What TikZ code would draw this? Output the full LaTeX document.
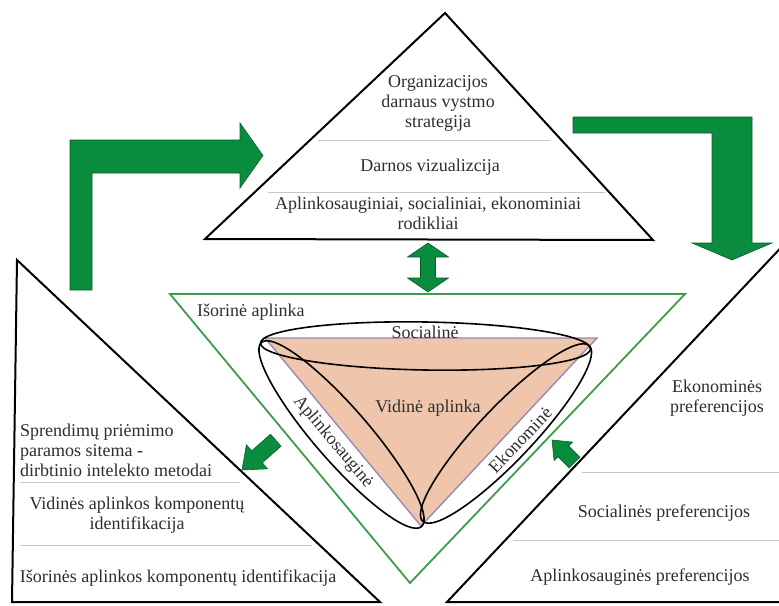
\documentclass[tikz,border=0pt]{standalone}
\usepackage{fontspec}
\setmainfont{Liberation Serif}
\definecolor{arrowgreen}{HTML}{0A8C3E}
\definecolor{arrowdark}{HTML}{0B5E2C}
\definecolor{linegreen}{HTML}{3E9C4C}
\definecolor{peach}{HTML}{EFC6AC}
\definecolor{lilac}{HTML}{9A88B6}
\begin{document}
\begin{tikzpicture}[x=1pt,y=-1pt,
  txt/.style={font=\fontsize{18}{20}\selectfont, text=black!82, inner sep=0pt, align=center},
  blk/.style={draw=black, line width=2pt, line join=miter},
  sep/.style={draw=black!22, line width=1pt},
  garrow/.style={fill=arrowgreen, draw=arrowdark, line width=0.6pt, line join=miter},
  ell/.style={draw=black, line width=1.6pt}]
\path[use as bounding box, fill=white] (0,0) rectangle (779,605);
\clip (0,0) rectangle (779,605);

% ---------- top triangle ----------
\draw[blk] (205,239) -- (445,13) -- (653,240) -- cycle;
\draw[sep] (318,140) -- (550,140);
\draw[sep] (268,192) -- (605,192);
\node[txt] (org) at (438,103) {Organizacijos\\darnaus vystmo\\strategija};
\node[txt] (viz) at (430,167) {Darnos vizualizcija};
\node[txt] (rod) at (428,213) {Aplinkosauginiai, socialiniai, ekonominiai\\rodikliai};

% ---------- left triangle ----------
\draw[blk] (17,260) -- (12,602) -- (380,602) -- cycle;
\draw[sep] (20,482) -- (240,482);
\draw[sep] (20,545) -- (312,545);
\node[txt, align=left, anchor=west] (spr) at (20,450) {Sprendimų priėmimo\\paramos sitema -\\dirbtinio intelekto metodai};
\node[txt] (vid) at (137,515) {Vidinės aplinkos komponentų\\identifikacija};
\node[txt] (isor) at (178,578) {Išorinės aplinkos komponentų identifikacija};

% ---------- right triangle ----------
\draw[blk] (790,238) -- (447,602) -- (790,602) -- cycle;
\draw[sep] (582,472) -- (779,472);
\draw[sep] (513,540) -- (779,540);
\node[txt] (eko) at (717,398) {Ekonominės\\preferencijos};
\node[txt] (soc) at (664,513) {Socialinės preferencijos};
\node[txt] (apl) at (640,577) {Aplinkosauginės preferencijos};

% ---------- centre ----------
\draw[draw=linegreen, line width=1.8pt] (170,294) -- (685,294) -- (410,583) -- cycle;
\node[txt, anchor=west] (isa) at (197,312) {Išorinė aplinka};

\fill[peach] (265,338) -- (597,338) -- (421,526) -- cycle;
\draw[draw=lilac, line width=1.4pt] (265,338) -- (597,338) -- (421,526) -- cycle;

\draw[ell, rotate around={-1:(425.5,346)}] (425.5,346) ellipse (165 and 24);
\draw[ell, rotate around={-49:(341.5,434.5)}] (341.5,434.5) ellipse (122 and 27);
\draw[ell, rotate around={46.5:(506,433.5)}] (506,433.5) ellipse (121 and 27);

\node[txt] (socE) at (425,332) {Socialinė};
\node[txt] (vidA) at (428,408) {Vidinė aplinka};
\node[txt, rotate=-50] (aplE) at (333,442) {Aplinkosauginė};
\node[txt, rotate=46.5] (ekoE) at (520,440) {Ekonominė};

% ---------- arrows ----------
% left L arrow
\draw[garrow] (70,290) -- (70,140) -- (240,140) -- (240,123) -- (263,155.5)
  -- (240,188) -- (240,173) -- (92,173) -- (92,290) -- cycle;
% right L arrow
\draw[garrow] (573,117) -- (752,117) -- (752,243) -- (772,243) -- (732,260)
  -- (692,243) -- (712,243) -- (712,133) -- (573,133) -- cycle;
% double arrow
\draw[garrow] (428,243) -- (448.5,257) -- (435.5,257) -- (435.5,278) -- (448.5,278)
  -- (428,292) -- (407.5,278) -- (420.5,278) -- (420.5,257) -- (407.5,257) -- cycle;
% small left arrow
\draw[garrow] (242,470) -- (267.6,468.8) -- (262.3,462.8) -- (281.1,446.2)
  -- (270.5,434.2) -- (251.7,450.8) -- (246.4,444.8) -- cycle;
% small right arrow
\draw[garrow] (552,440) -- (554.1,460.5) -- (558,456.6) -- (569.3,467.9)
  -- (579.9,457.3) -- (568.6,446) -- (572.5,442.1) -- cycle;
\end{tikzpicture}
\end{document}
